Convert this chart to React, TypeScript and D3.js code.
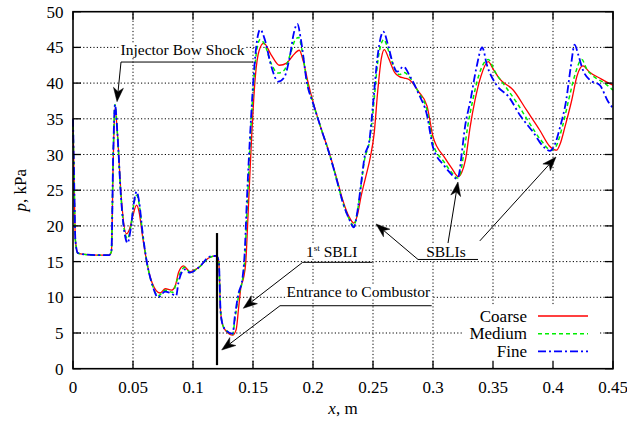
import React from "react";
import * as d3 from "d3";

// x in m, p in kPa
const xCoarse = [0, 0.001, 0.002, 0.004, 0.01, 0.02, 0.03, 0.032, 0.0335, 0.035, 0.037, 0.04, 0.0445, 0.047, 0.05, 0.053, 0.055, 0.058, 0.062, 0.066, 0.0725, 0.077, 0.082, 0.085, 0.088, 0.092, 0.0975, 0.105, 0.113, 0.1195, 0.1215, 0.123, 0.125, 0.128, 0.133, 0.136, 0.138, 0.14, 0.142, 0.144, 0.146, 0.149, 0.152, 0.155, 0.159, 0.165, 0.172, 0.178, 0.183, 0.1886, 0.192, 0.196, 0.2, 0.207, 0.214, 0.22, 0.225, 0.23, 0.234, 0.237, 0.24, 0.244, 0.248, 0.251, 0.254, 0.257, 0.2594, 0.263, 0.268, 0.272, 0.276, 0.28, 0.288, 0.295, 0.3, 0.31, 0.316, 0.321, 0.324, 0.327, 0.331, 0.335, 0.34, 0.346, 0.35, 0.355, 0.367, 0.378, 0.389, 0.397, 0.403, 0.406, 0.41, 0.4156, 0.42, 0.425, 0.43, 0.44, 0.45];
const pCoarse = [35, 26, 18, 16.2, 16.0, 15.9, 15.9, 16.3, 29, 36.5, 33, 24.5, 18.9, 19.5, 21.5, 22.9, 22, 18.5, 14.5, 12, 10.6, 11.2, 11.0, 11.5, 13.5, 14.4, 13.6, 14.2, 15.5, 15.8, 15, 8, 6.0, 5.2, 4.7, 5.5, 8.5, 11.5, 12.6, 15, 22, 33, 41, 44.5, 45.6, 44, 42.5, 42.8, 43.8, 44.6, 43, 40, 37.4, 33.5, 30, 26.5, 23.5, 21.3, 20.4, 21.5, 24.1, 26.9, 29.8, 33, 39, 43.5, 44.7, 43.5, 41.5, 40.9, 40.7, 40.5, 38.8, 36.8, 32.5, 29.5, 28, 26.9, 27.5, 29.2, 33.9, 37.6, 41, 43.0, 42, 40.7, 39.0, 36.2, 33.4, 31.2, 30.6, 31.5, 33.9, 37.6, 41, 42.4, 41.6, 40.6, 39.7];

const xMedium = [0, 0.001, 0.002, 0.004, 0.01, 0.02, 0.03, 0.032, 0.0335, 0.035, 0.037, 0.04, 0.043, 0.0455, 0.048, 0.051, 0.053, 0.055, 0.058, 0.062, 0.066, 0.071, 0.077, 0.083, 0.087, 0.093, 0.0975, 0.105, 0.114, 0.1195, 0.1215, 0.123, 0.125, 0.128, 0.133, 0.135, 0.138, 0.141, 0.143, 0.145, 0.148, 0.151, 0.153, 0.156, 0.16, 0.165, 0.171, 0.176, 0.181, 0.185, 0.188, 0.191, 0.195, 0.2, 0.207, 0.214, 0.22, 0.225, 0.23, 0.234, 0.237, 0.24, 0.243, 0.247, 0.25, 0.254, 0.259, 0.263, 0.268, 0.272, 0.276, 0.281, 0.288, 0.295, 0.3, 0.309, 0.315, 0.3205, 0.323, 0.3255, 0.329, 0.333, 0.338, 0.346, 0.352, 0.36, 0.37, 0.38, 0.39, 0.3985, 0.402, 0.408, 0.413, 0.418, 0.424, 0.428, 0.435, 0.443, 0.45];
const pMedium = [35, 26, 18, 16.2, 16.0, 15.9, 15.9, 16.4, 30, 37, 33, 24, 19.2, 18.2, 19.8, 23.3, 24.3, 23.2, 19, 14.5, 11.8, 10.2, 11.0, 10.7, 12.5, 14.2, 13.5, 14.2, 15.6, 15.8, 15, 8, 6.0, 5.3, 4.8, 7, 10.2, 12.2, 15, 22, 33, 41, 44.5, 46.1, 45.3, 42.8, 41.4, 41.8, 44, 46, 46.4, 44.5, 40.2, 37.2, 33.5, 29.9, 26.3, 23.2, 21, 20.0, 22, 25.6, 29.3, 31.8, 36, 43, 46.1, 44.5, 42, 41.2, 41.5, 40.7, 38.7, 36.2, 31.5, 29, 27.6, 26.7, 27.5, 30, 34, 37.5, 41, 43.3, 41.5, 39.6, 37.2, 34.5, 32, 30.6, 31, 34, 37.6, 41, 43.3, 42, 40.8, 40, 39];

const xFine = [0, 0.001, 0.002, 0.004, 0.01, 0.02, 0.03, 0.032, 0.0335, 0.035, 0.037, 0.04, 0.043, 0.0455, 0.048, 0.051, 0.053, 0.055, 0.058, 0.062, 0.066, 0.071, 0.0767, 0.081, 0.086, 0.0878, 0.093, 0.0975, 0.105, 0.114, 0.1195, 0.1215, 0.123, 0.125, 0.128, 0.133, 0.135, 0.138, 0.141, 0.143, 0.145, 0.148, 0.151, 0.153, 0.156, 0.16, 0.165, 0.171, 0.176, 0.181, 0.184, 0.187, 0.19, 0.195, 0.2, 0.207, 0.214, 0.22, 0.225, 0.23, 0.234, 0.237, 0.24, 0.243, 0.247, 0.25, 0.254, 0.2586, 0.263, 0.267, 0.27, 0.2753, 0.281, 0.288, 0.295, 0.3, 0.309, 0.315, 0.32, 0.322, 0.324, 0.3267, 0.331, 0.336, 0.341, 0.345, 0.353, 0.363, 0.3725, 0.384, 0.391, 0.3975, 0.401, 0.406, 0.411, 0.415, 0.418, 0.421, 0.425, 0.431, 0.439, 0.446, 0.45];
const pFine = [35, 26, 18, 16.2, 16.0, 15.9, 15.9, 16.5, 30, 37, 33, 24, 19, 17.6, 19.5, 23.5, 24.8, 23.5, 19, 14.5, 11.8, 10.0, 10.8, 10.6, 10.2, 12, 13.9, 13.45, 14.2, 15.7, 15.8, 15, 8, 6.0, 5.3, 4.9, 7.5, 10.6, 12.4, 16, 24, 34, 42, 45.5, 47.5, 46, 42.5, 40.2, 40.8, 44, 47, 48.3, 46, 40.0, 37.2, 33.5, 29.9, 26.3, 23.2, 21, 19.8, 22, 25.8, 29.7, 32, 37, 44, 47.2, 45, 42.5, 41.6, 42.3, 40.9, 38.5, 35.5, 31, 28.5, 27.3, 26.6, 27.5, 30.2, 33.9, 37.4, 42, 45.0, 42.5, 39.7, 38.1, 35.5, 33.0, 31.3, 30.5, 31.2, 33.9, 37.6, 42.5, 45.4, 44, 41.8, 40.4, 39.7, 37.4, 36.5];

const seriesNames = ["Coarse", "Medium", "Fine"];
const xTicks = [0, 0.05, 0.1, 0.15, 0.2, 0.25, 0.3, 0.35, 0.4, 0.45];
const yTicks = [0, 5, 10, 15, 20, 25, 30, 35, 40, 45, 50];

const W = 627;
const H = 422;
const FONT = "'Liberation Serif', 'Times New Roman', serif";

const App = () => {
  const svgRef = React.useRef<SVGSVGElement>(null);

  React.useEffect(() => {
    const svg = d3.select(svgRef.current);
    svg.selectAll("*").remove();

    const x = d3.scaleLinear().domain([0, 0.45]).range([73, 613]);
    const y = d3.scaleLinear().domain([0, 50]).range([368.7, 11.7]);
    const [x0, x1] = x.range();
    const [y0, y1] = y.range();

    // grid
    const grid = svg.append("g").attr("stroke", "#000").attr("stroke-width", 1).attr("stroke-dasharray", "1.2,2.2");
    grid.selectAll(".gx").data(xTicks.slice(1, -1)).join("line")
      .attr("x1", (d) => x(d)).attr("x2", (d) => x(d)).attr("y1", y0).attr("y2", y1);
    grid.selectAll(".gy").data(yTicks.slice(1, -1)).join("line")
      .attr("y1", (d) => y(d)).attr("y2", (d) => y(d)).attr("x1", x0).attr("x2", x1);

    // legend background hides grid
    svg.append("rect").attr("x", 462).attr("y", 306).attr("width", 136).attr("height", 60).attr("fill", "#fff");

    // annotation labels with opaque background
    const labels = [
      { parts: [{ t: "Injector Bow Shock" }], at: [0.0913, 43.9] },
      { parts: [{ t: "1" }, { t: "st", sup: true }, { t: " SBLI" }], at: [0.2156, 15.69] },
      { parts: [{ t: "Entrance to Combustor" }], at: [0.2378, 10.08] },
      { parts: [{ t: "SBLIs" }], at: [0.3108, 15.64] },
    ];
    const lab = svg.append("g");
    labels.forEach((l) => {
      const g = lab.append("g");
      const txt = g.append("text")
        .attr("x", x(l.at[0])).attr("y", y(l.at[1]))
        .attr("text-anchor", "middle")
        .attr("font-family", FONT).attr("font-size", 15.5);
      l.parts.forEach((p: any) => {
        const ts = txt.append("tspan").text(p.t);
        if (p.sup) ts.attr("font-size", 9).attr("dy", -6);
        else if (txt.selectAll("tspan").size() > 1) ts.attr("dy", 6);
      });
      const bb = (txt.node() as SVGTextElement).getBBox();
      g.insert("rect", "text").attr("x", bb.x - 1).attr("y", bb.y + 2).attr("width", bb.width + 2).attr("height", bb.height - 3).attr("fill", "#fff");
    });

    // curves
    const line = d3.line<[number, number]>().x((d) => x(d[0])).y((d) => y(d[1])).curve(d3.curveMonotoneX);
    const series = [
      { name: seriesNames[0], xs: xCoarse, ps: pCoarse, color: "#ff0000", dash: null, w: 1.3 },
      { name: seriesNames[1], xs: xMedium, ps: pMedium, color: "#00ee00", dash: "4,3", w: 1.5 },
      { name: seriesNames[2], xs: xFine, ps: pFine, color: "#0000ff", dash: "8,3,2,3", w: 1.8 },
    ];
    series.forEach((s) => {
      svg.append("path")
        .datum(s.xs.map((v, i) => [v, s.ps[i]] as [number, number]))
        .attr("fill", "none").attr("stroke", s.color).attr("stroke-width", s.w)
        .attr("stroke-dasharray", s.dash)
        .attr("d", line);
    });

    // annotation lines & arrows
    const segs: [number, number][][] = [
      [[0.15, 42.95], [0.04, 42.95]],
      [[0.2492, 14.9], [0.1914, 14.9]],
      [[0.2989, 8.82], [0.1725, 8.82]],
      [[0.2875, 15.3], [0.3375, 15.3]],
    ];
    const arrows: [number, number][][] = [
      [[0.04, 42.95], [0.0367, 37.4]],
      [[0.1914, 14.9], [0.1419, 8.46]],
      [[0.1725, 8.82], [0.1239, 2.62]],
      [[0.2875, 15.3], [0.2525, 20.27]],
      [[0.3125, 17.6], [0.3208, 26.15]],
      [[0.339, 17.9], [0.4025, 29.65]],
    ];
    const ann = svg.append("g").attr("stroke", "#000").attr("stroke-width", 1);
    segs.forEach((s) => {
      ann.append("line").attr("x1", x(s[0][0])).attr("y1", y(s[0][1])).attr("x2", x(s[1][0])).attr("y2", y(s[1][1]));
    });
    arrows.forEach((a) => {
      const fx = x(a[0][0]), fy = y(a[0][1]), tx = x(a[1][0]), ty = y(a[1][1]);
      const ang = Math.atan2(ty - fy, tx - fx);
      const L = 14, Wd = 5, N = 10;
      const c = Math.cos(ang), s = Math.sin(ang);
      const pt = (u: number, v: number) => [tx - u * c - v * s, ty - u * s + v * c];
      const pts = [pt(0, 0), pt(L, Wd), pt(N, 0), pt(L, -Wd)];
      ann.append("line").attr("x1", fx).attr("y1", fy).attr("x2", pt(N, 0)[0]).attr("y2", pt(N, 0)[1]);
      ann.append("path").attr("d", "M" + pts.map((p) => p.join(",")).join("L") + "Z").attr("fill", "#000").attr("stroke-width", 0.5);
    });

    // combustor entrance marker
    svg.append("line").attr("x1", x(0.12)).attr("x2", x(0.12)).attr("y1", y(0.5)).attr("y2", y(19))
      .attr("stroke", "#000").attr("stroke-width", 2.2);

    // frame + ticks
    const ax = svg.append("g").attr("stroke", "#000").attr("stroke-width", 1.3);
    ax.append("rect").attr("x", x0).attr("y", y1).attr("width", x1 - x0).attr("height", y0 - y1).attr("fill", "none").attr("stroke-width", 1.6);
    xTicks.forEach((t) => {
      ax.append("line").attr("x1", x(t)).attr("x2", x(t)).attr("y1", y0).attr("y2", y0 - 8);
      ax.append("line").attr("x1", x(t)).attr("x2", x(t)).attr("y1", y1).attr("y2", y1 + 8);
    });
    yTicks.forEach((t) => {
      ax.append("line").attr("y1", y(t)).attr("y2", y(t)).attr("x1", x0).attr("x2", x0 + 8);
      ax.append("line").attr("y1", y(t)).attr("y2", y(t)).attr("x1", x1).attr("x2", x1 - 8);
    });

    const fmt = (t: number) => String(Math.round(t * 100) / 100);
    svg.append("g").attr("font-family", FONT).attr("font-size", 17).attr("text-anchor", "middle")
      .selectAll("text").data(xTicks).join("text")
      .attr("x", (d) => x(d)).attr("y", 392.5).text(fmt);
    svg.append("g").attr("font-family", FONT).attr("font-size", 17).attr("text-anchor", "end")
      .selectAll("text").data(yTicks).join("text")
      .attr("x", 63.5).attr("y", (d) => y(d) + 6).text(fmt);

    // axis titles
    const xt = svg.append("text").attr("x", (x0 + x1) / 2).attr("y", 414).attr("text-anchor", "middle")
      .attr("font-family", FONT).attr("font-size", 17);
    xt.append("tspan").attr("font-style", "italic").text("x");
    xt.append("tspan").text(", m");
    const yt = svg.append("text").attr("transform", `translate(26,${(y0 + y1) / 2}) rotate(-90)`).attr("text-anchor", "middle")
      .attr("font-family", FONT).attr("font-size", 17);
    yt.append("tspan").attr("font-style", "italic").text("p");
    yt.append("tspan").text(", kPa");

    // legend
    const lg = svg.append("g").attr("font-family", FONT).attr("font-size", 17);
    series.forEach((s, i) => {
      const yy = 316 + i * 17.7;
      lg.append("text").attr("x", 527).attr("y", yy + 5.7).attr("text-anchor", "end").text(s.name);
      lg.append("line").attr("x1", 538).attr("x2", 588).attr("y1", yy).attr("y2", yy)
        .attr("stroke", s.color).attr("stroke-width", s.w).attr("stroke-dasharray", s.dash);
    });
  }, []);

  return (
    <div style={{ position: "absolute", left: 0, top: 0 }}>
      <svg ref={svgRef} width={W} height={H} style={{ display: "block", background: "#fff" }} />
    </div>
  );
};

export default App;
